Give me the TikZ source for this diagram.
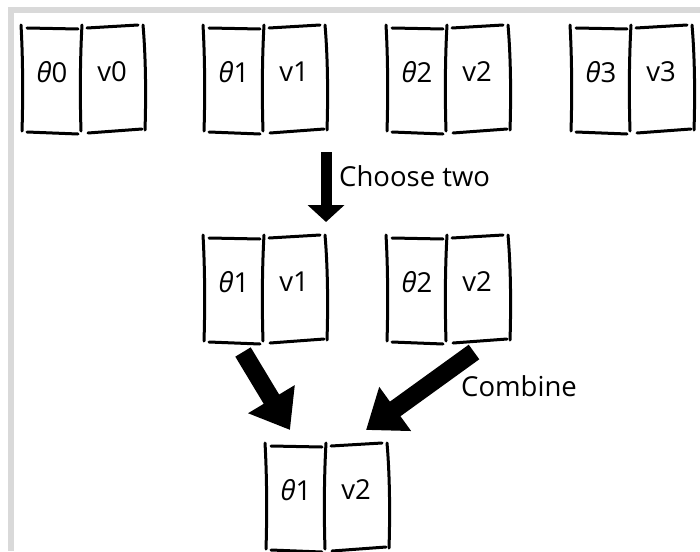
\documentclass[tikz,border=0pt]{standalone}
\usepackage{fontspec}
\setmainfont{Open Sans}
\usetikzlibrary{arrows.meta}
\definecolor{framegray}{RGB}{217,217,217}

\tikzset{
  sketch/.style={line width=3pt, line cap=round},
  lbl/.style={font=\fontsize{27.5}{28}\selectfont, inner sep=0pt},
  bigarrow/.style={line width=#1, -{Triangle[length=17pt,width=36pt]}},
  fatarrow/.style={line width=#1, -{Triangle[length=36pt,width=52pt]}}
}

% one theta/value pair, top-left corner at (#2,#3)
\newcommand{\pair}[5]{%
  \begin{scope}[shift={(#2,#3)}]
    \draw[sketch] (0,0) .. controls (2,35) and (2,75) .. (1,106);
    \draw[sketch] (6,3) -- (57,4);
    \draw[sketch] (61,0) .. controls (59,35) and (59,75) .. (60,106);
    \draw[sketch] (66,3) -- (117,0);
    \draw[sketch] (122,0) .. controls (125,35) and (125,75) .. (124,105);
    \draw[sketch] (6,107) -- (57,109);
    \draw[sketch] (67,108) -- (121,104);
    \node[lbl] (#1t) at (31,47) {\textit{θ}#4};
    \node[lbl] (#1v) at (91,47) {v#5};
  \end{scope}}

\begin{document}
\begin{tikzpicture}[x=1pt,y=-1pt]
  \useasboundingbox (0,0) rectangle (700,551);
  \fill[framegray] (8,7) rectangle (700,13);
  \fill[framegray] (8,7) rectangle (14,551);

  \foreach \i/\x in {0/21,1/203,2/386,3/570} {
    \pair{top\i}{\x}{25}{\i}{\i}
  }

  \pair{midA}{203}{235}{1}{1}
  \pair{midB}{386}{235}{2}{2}
  \pair{res}{265}{443}{1}{2}

  \coordinate (chooseS) at (326,152);
  \coordinate (chooseE) at (326,222);
  \draw[bigarrow=11pt] (chooseS) -- (chooseE);
  \node[lbl, anchor=west] (choose) at (339,176) {Choose two};

  \coordinate (combAS) at (243,352);
  \coordinate (combAE) at (290,430);
  \coordinate (combBS) at (474,352);
  \coordinate (combBE) at (366,430);
  \draw[fatarrow=18pt] (combAS) -- (combAE);
  \draw[fatarrow=18pt] (combBS) -- (combBE);
  \node[lbl, anchor=west] (combine) at (461,386) {Combine};
\end{tikzpicture}
\end{document}
